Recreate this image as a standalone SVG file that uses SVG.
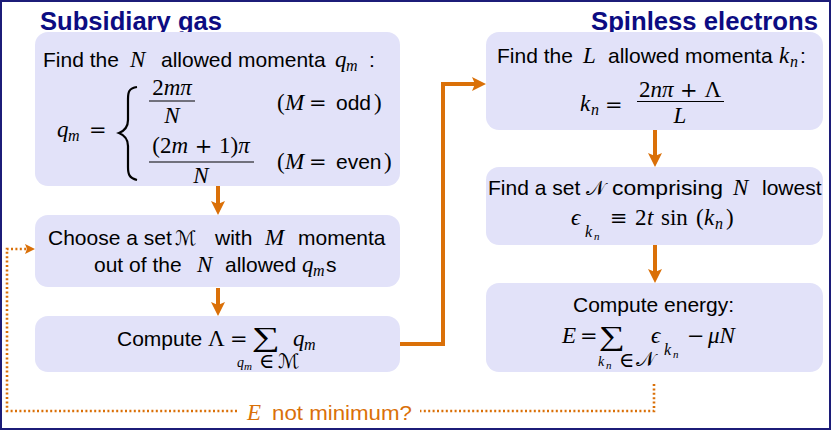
<svg xmlns="http://www.w3.org/2000/svg" width="831" height="430" viewBox="0 0 831 430">
<defs>
<style>
.box{fill:#e2e2f9}
.t{font-family:'Liberation Sans','DejaVu Sans',sans-serif;font-size:21px;fill:#000}
.mi{font-family:'Liberation Serif','DejaVu Serif',serif;font-style:italic;font-size:23px;fill:#000}
.mu{font-family:'Liberation Serif','DejaVu Serif',serif;font-size:23px;fill:#000}
.op{font-family:'DejaVu Serif','Liberation Serif',serif;font-size:21px;fill:#000}
.sb{font-family:'Liberation Serif','DejaVu Serif',serif;font-style:italic;font-size:16px;fill:#000}
.lim{font-family:'Liberation Serif','DejaVu Serif',serif;font-style:italic;font-size:14px;fill:#000}
.ssb{font-family:'Liberation Serif','DejaVu Serif',serif;font-style:italic;font-size:11px;fill:#000}
.cal{font-family:'DejaVu Serif','DejaVu Sans','Noto Sans',serif;font-size:20px;fill:#000}
.sum{font-family:'Liberation Serif','DejaVu Serif',serif;font-size:27px;fill:#000}
.title{font-family:'Liberation Sans','DejaVu Sans',sans-serif;font-weight:bold;font-size:25px;fill:#0c0c82}
.bar{stroke:#000;stroke-width:1}
.conn{fill:none;stroke:#da7008;stroke-width:4}
.dot{fill:none;stroke:#da7008;stroke-width:2.6;stroke-dasharray:2 2.4}
.lbl{fill:#da7008}
</style>
<marker id="ah" markerUnits="userSpaceOnUse" viewBox="0 0 14 14" refX="6" refY="7" markerWidth="14" markerHeight="14" orient="auto">
<path d="M0,0 L14,7 L0,14 L3,7 z" fill="#da7008"/>
</marker>
<marker id="ahs" markerUnits="userSpaceOnUse" viewBox="0 0 10 10" refX="4" refY="5" markerWidth="10" markerHeight="10" orient="auto">
<path d="M0,0 L10,5 L0,10 L2,5 z" fill="#da7008"/>
</marker>
</defs>
<rect x="1" y="1" width="829" height="428" fill="#fff" stroke="#1c1c78" stroke-width="2"/>
<text class="title" x="40" y="30" textLength="182" lengthAdjust="spacingAndGlyphs">Subsidiary gas</text>
<text class="title" x="591" y="30" textLength="227" lengthAdjust="spacingAndGlyphs">Spinless electrons</text>

<g id="connectors">
<path class="conn" d="M218,186 V207" marker-end="url(#ah)"/>
<path class="conn" d="M218,288 V308" marker-end="url(#ah)"/>
<path class="conn" d="M655,130 V159" marker-end="url(#ah)"/>
<path class="conn" d="M655,245 V275" marker-end="url(#ah)"/>
<path class="conn" d="M400,344 H443 V84 H478" marker-end="url(#ah)"/>
<path class="dot" d="M654,384 V411 H420"/>
<path class="dot" d="M237,411 H7 V249 H29" marker-end="url(#ahs)"/>
<text class="mi lbl" x="247" y="420">E</text>
<text class="t lbl" x="272" y="420" textLength="140" lengthAdjust="spacingAndGlyphs">not minimum?</text>
</g>

<g id="n-find-q">
<rect class="box" x="35" y="32" width="365" height="154" rx="13"/>
<text class="t" x="43" y="67">Find the</text>
<text class="mi" x="130" y="67">N</text>
<text class="t" x="161" y="67">allowed momenta</text>
<text class="mi" x="335" y="67">q</text><text class="sb" x="346" y="71">m</text>
<text class="t" x="369" y="67">:</text>
<text class="mi" x="57" y="137">q</text><text class="sb" x="68" y="141">m</text>
<text class="op" x="89" y="137">=</text>
<path d="M137,87 C129,88 128,92 128,99 V120 C128,128 124,131 119,133 C124,135 128,138 128,146 V167 C128,174 129,178 137,180" fill="none" stroke="#000" stroke-width="2.2"/>
<text x="172" y="95" text-anchor="middle"><tspan class="mu">2</tspan><tspan class="mi">mπ</tspan></text>
<line class="bar" x1="149" y1="101" x2="195" y2="101"/>
<text class="mi" x="172" y="123" text-anchor="middle">N</text>
<text class="mu" x="277" y="110">(</text><text class="mi" x="285" y="110">M</text><text class="op" x="309" y="110">=</text><text class="t" x="336" y="110">odd</text><text class="mu" x="374" y="110">)</text>
<text x="201" y="153" text-anchor="middle"><tspan class="mu">(2</tspan><tspan class="mi">m</tspan><tspan class="op"> + </tspan><tspan class="mu">1)</tspan><tspan class="mi">π</tspan></text>
<line class="bar" x1="149" y1="162" x2="254" y2="162"/>
<text class="mi" x="201" y="183" text-anchor="middle">N</text>
<text class="mu" x="277" y="169">(</text><text class="mi" x="285" y="169">M</text><text class="op" x="309" y="169">=</text><text class="t" x="336" y="169">even</text><text class="mu" x="384" y="169">)</text>
</g>

<g id="n-choose">
<rect class="box" x="35" y="215" width="365" height="72" rx="13"/>
<text class="t" x="48" y="245">Choose a set</text>
<text class="cal" x="175" y="245">ℳ</text>
<text class="t" x="215" y="245">with</text>
<text class="mi" x="265" y="245">M</text>
<text class="t" x="298" y="245">momenta</text>
<text class="t" x="94" y="272">out of the</text>
<text class="mi" x="197" y="272">N</text>
<text class="t" x="225" y="272">allowed</text>
<text class="mi" x="302" y="272">q</text><text class="sb" x="313" y="276">m</text>
<text class="t" x="326" y="272">s</text>
</g>

<g id="n-lambda">
<rect class="box" x="35" y="316" width="365" height="56" rx="13"/>
<text class="t" x="117" y="346">Compute</text>
<text class="mu" x="208" y="346">Λ</text>
<text class="op" x="230" y="346">=</text>
<text class="sum" x="252" y="346" textLength="28" lengthAdjust="spacingAndGlyphs">∑</text>
<text class="mi" x="293" y="346">q</text><text class="sb" x="304" y="350">m</text>
<text class="lim" x="237" y="367">q</text><text class="ssb" x="244" y="370">m</text>
<text class="op" x="259" y="368" font-size="12">∈</text>
<text class="cal" x="278" y="368" font-size="15">ℳ</text>
</g>

<g id="n-find-k">
<rect class="box" x="486" y="32" width="337" height="98" rx="13"/>
<text class="t" x="497" y="63">Find the</text>
<text class="mi" x="583" y="63">L</text>
<text class="t" x="608" y="63">allowed momenta</text>
<text class="mi" x="779" y="63">k</text><text class="sb" x="790" y="67">n</text>
<text class="t" x="800" y="63">:</text>
<text class="mi" x="580" y="111">k</text><text class="sb" x="591" y="115">n</text>
<text class="op" x="605" y="112">=</text>
<text x="680" y="97" text-anchor="middle"><tspan class="mu">2</tspan><tspan class="mi">nπ</tspan><tspan class="op"> + </tspan><tspan class="mu">Λ</tspan></text>
<line class="bar" x1="637" y1="101.5" x2="724" y2="101.5"/>
<text class="mi" x="680" y="123" text-anchor="middle">L</text>
</g>

<g id="n-lowest">
<rect class="box" x="486" y="167" width="337" height="78" rx="13"/>
<text class="t" x="488" y="195">Find a set</text>
<text class="cal" x="586" y="195">𝒩</text>
<text class="t" x="612" y="195" textLength="111" lengthAdjust="spacingAndGlyphs">comprising</text>
<text class="mi" x="733" y="195">N</text>
<text class="t" x="762" y="195">lowest</text>
<text class="mi" x="571" y="225">ϵ</text>
<text class="sb" x="585" y="237">k</text><text class="ssb" x="594" y="240">n</text>
<text class="op" x="610" y="225">≡</text>
<text class="mu" x="635" y="225">2</text><text class="mi" x="647" y="225">t</text>
<text class="mu" x="661" y="225">sin</text>
<text class="mu" x="696" y="225">(</text>
<text class="mi" x="704" y="225">k</text><text class="sb" x="715" y="229">n</text>
<text class="mu" x="726" y="225">)</text>
</g>

<g id="n-energy">
<rect class="box" x="486" y="283" width="337" height="89" rx="13"/>
<text class="t" x="573" y="312">Compute energy:</text>
<text class="mi" x="562" y="343">E</text>
<text class="op" x="580" y="343">=</text>
<text class="sum" x="599" y="345" textLength="26" lengthAdjust="spacingAndGlyphs">∑</text>
<text class="mi" x="651" y="343">ϵ</text>
<text class="sb" x="664" y="355">k</text><text class="ssb" x="673" y="358">n</text>
<text class="op" x="687" y="343">−</text>
<text class="mi" x="708" y="343">μN</text>
<text class="lim" x="598" y="366">k</text><text class="ssb" x="606" y="369">n</text>
<text class="op" x="619" y="367" font-size="12">∈</text>
<text class="cal" x="636" y="366" font-size="16">𝒩</text>
</g>
</svg>
